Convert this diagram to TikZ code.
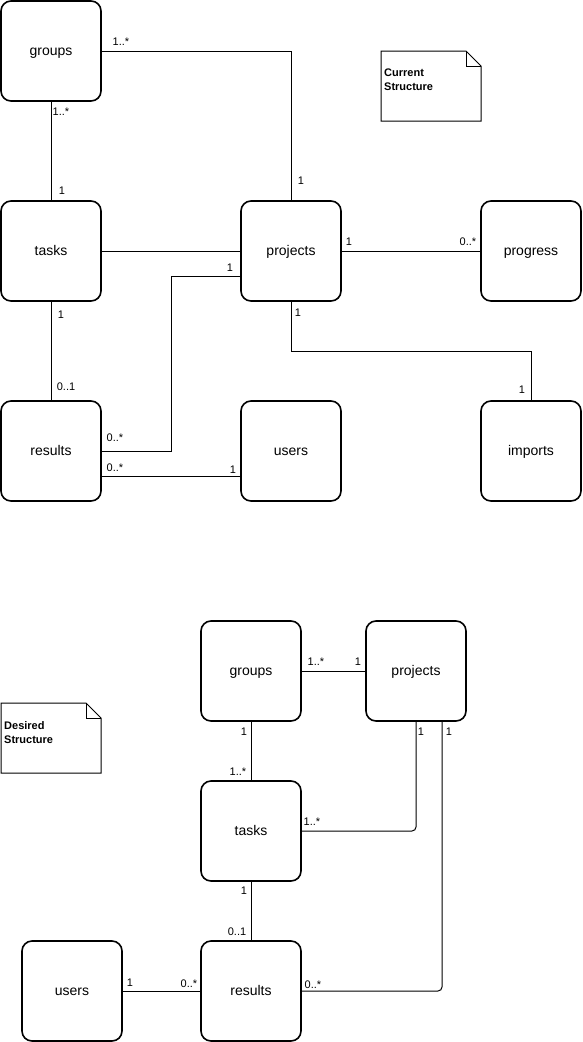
\documentclass[tikz,border=0pt]{standalone}
\usepackage{fontspec}
\setmainfont{Liberation Sans}
\begin{document}
\begin{tikzpicture}[x=1pt,y=-1pt,
  entity/.style={draw, line width=1.6pt, rounded corners=10pt,
    minimum width=100pt, minimum height=100pt, inner sep=0pt,
    text height=11pt, text depth=2pt,
    font=\fontsize{14}{16}\selectfont},
  link/.style={line width=1pt},
  softlink/.style={link, rounded corners=4pt},
  mult/.style={inner sep=0pt, font=\fontsize{11}{13}\selectfont},
  notebox/.style={draw, line width=1pt, line join=miter},
  notetext/.style={inner sep=0pt, align=left, anchor=north west,
    font=\fontsize{11}{14}\selectfont\bfseries}]
\useasboundingbox (0,0) rectangle (582,1042);

% ---------- current structure ----------
\node[entity] (g1)  at (51,51)   {groups};
\node[entity] (t1)  at (51,251)  {tasks};
\node[entity] (p1)  at (291,251) {projects};
\node[entity] (pr1) at (531,251) {progress};
\node[entity] (r1)  at (51,451)  {results};
\node[entity] (u1)  at (291,451) {users};
\node[entity] (i1)  at (531,451) {imports};

\draw[link] (g1.east) -| (p1.north);
\draw[link] (g1.south) -- (t1.north);
\draw[link] (t1.east) -- (p1.west);
\draw[link] (p1.east) -- (pr1.west);
\draw[link] (r1.east) -| (171,276) -- ([shift={(0,25)}]p1.west);
\draw[link] (p1.south) -- ++(0,50) -| (i1.north);
\draw[link] (t1.south) -- (r1.north);
\draw[link] ([shift={(0,25)}]r1.east) -- ([shift={(0,25)}]u1.west);

\node[mult] (m1)  at (121,42)  {1..*};
\node[mult] (m2)  at (301,181) {1};
\node[mult] (m3)  at (61,112)  {1..*};
\node[mult] (m4)  at (62,191)  {1};
\node[mult] (m5)  at (349,242) {1};
\node[mult] (m6)  at (468,242) {0..*};
\node[mult] (m7)  at (230,268) {1};
\node[mult] (m8)  at (298,313) {1};
\node[mult] (m9)  at (522,390) {1};
\node[mult] (m10) at (61,315)  {1};
\node[mult] (m11) at (66,387)  {0..1};
\node[mult] (m12) at (115,438) {0..*};
\node[mult] (m13) at (115,468) {0..*};
\node[mult] (m14) at (233,470) {1};

% note
\draw[notebox] (381,51) -- (466,51) -- (481,66) -- (481,121) -- (381,121) -- cycle;
\draw[notebox] (466,51) -- (466,66) -- (481,66);
\node[notetext] (n1) at (384,69) {Current\\Structure};

% ---------- desired structure ----------
\node[entity] (g2) at (251,671) {groups};
\node[entity] (p2) at (416,671) {projects};
\node[entity] (t2) at (251,831) {tasks};
\node[entity] (r2) at (251,991) {results};
\node[entity] (u2) at (72,991)  {users};

\draw[link] (g2.east) -- (p2.west);
\draw[link] (g2.south) -- (t2.north);
\draw[softlink] (p2.south) |- (t2.east);
\draw[softlink] ([shift={(26,0)}]p2.south) |- (r2.east);
\draw[link] (t2.south) -- (r2.north);
\draw[link] (u2.east) -- (r2.west);

\node[mult] (d1)  at (316,662) {1..*};
\node[mult] (d2)  at (358,662) {1};
\node[mult] (d3)  at (244,732) {1};
\node[mult] (d4)  at (238,772) {1..*};
\node[mult] (d5)  at (421,732) {1};
\node[mult] (d6)  at (449,732) {1};
\node[mult] (d7)  at (312,822) {1..*};
\node[mult] (d8)  at (244,891) {1};
\node[mult] (d9)  at (237,932) {0..1};
\node[mult] (d10) at (130,983) {1};
\node[mult] (d11) at (189,984) {0..*};
\node[mult] (d12) at (313,985) {0..*};

% note
\draw[notebox] (1,703) -- (86,703) -- (101,718) -- (101,773) -- (1,773) -- cycle;
\draw[notebox] (86,703) -- (86,718) -- (101,718);
\node[notetext] (n2) at (4,721) {Desired\\Structure};
\end{tikzpicture}
\end{document}
